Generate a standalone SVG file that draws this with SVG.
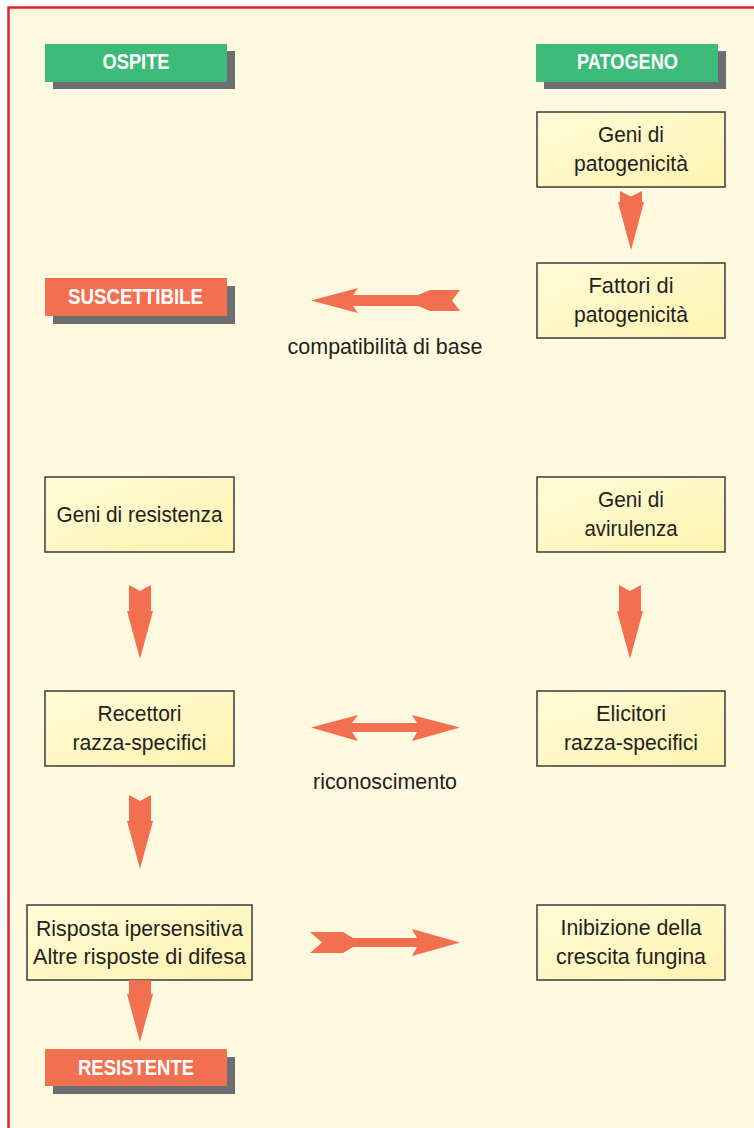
<svg xmlns="http://www.w3.org/2000/svg" width="754" height="1128" viewBox="0 0 754 1128">
<defs>
<linearGradient id="boxg" x1="0" y1="0" x2="1" y2="1">
<stop offset="0" stop-color="#FFFBD8"/>
<stop offset="1" stop-color="#FFF3B0"/>
</linearGradient>
<style>
.box{fill:url(#boxg);stroke:#3a3a3a;stroke-width:1.5}
.t{font-family:"Liberation Sans",Arial,sans-serif;font-size:22.5px;fill:#231F20;text-anchor:middle}
.lb{font-family:"Liberation Sans",Arial,sans-serif;font-size:22px;font-weight:bold;fill:#FFFFFF;text-anchor:middle}
.sh{fill:#6D6E71}
.gr{fill:#3DBB78}
.or{fill:#F26F50}
.arr{fill:#F26F50}
</style>
</defs>
<rect x="0" y="0" width="754" height="1128" fill="#FFFFFF"/>
<rect x="8" y="7" width="746" height="1121" fill="#FFFADF"/>
<path d="M8.5,1128 V7.5 H754" fill="none" stroke="#E8202A" stroke-width="2.5"/>

<g id="ospite">
<rect class="sh" x="53" y="51" width="182" height="38"/>
<rect class="gr" x="45" y="44" width="182" height="38"/>
<text class="lb" x="136" y="68.5" textLength="67" lengthAdjust="spacingAndGlyphs">OSPITE</text>
</g>
<g id="patogeno">
<rect class="sh" x="544" y="51" width="182" height="38"/>
<rect class="gr" x="536" y="44" width="182" height="38"/>
<text class="lb" x="627.5" y="68.5" textLength="101" lengthAdjust="spacingAndGlyphs">PATOGENO</text>
</g>
<g id="geni-patogenicita">
<rect class="box" x="537" y="112" width="188" height="75"/>
<text class="t" x="631" y="142" textLength="66" lengthAdjust="spacingAndGlyphs">Geni di</text>
<text class="t" x="631" y="170.5" textLength="114" lengthAdjust="spacingAndGlyphs">patogenicità</text>
</g>
<g id="fattori-patogenicita">
<rect class="box" x="537" y="263" width="188" height="75"/>
<text class="t" x="631" y="293" textLength="85" lengthAdjust="spacingAndGlyphs">Fattori di</text>
<text class="t" x="631" y="321.5" textLength="114" lengthAdjust="spacingAndGlyphs">patogenicità</text>
</g>
<g id="suscettibile">
<rect class="sh" x="53" y="286" width="182" height="38"/>
<rect class="or" x="45" y="278" width="182" height="38"/>
<text class="lb" x="135.5" y="303.5" textLength="135" lengthAdjust="spacingAndGlyphs">SUSCETTIBILE</text>
</g>
<g id="geni-resistenza">
<rect class="box" x="45" y="477" width="189" height="75"/>
<text class="t" x="139.5" y="522" textLength="166" lengthAdjust="spacingAndGlyphs">Geni di resistenza</text>
</g>
<g id="geni-avirulenza">
<rect class="box" x="537" y="477" width="188" height="75"/>
<text class="t" x="631" y="507" textLength="66" lengthAdjust="spacingAndGlyphs">Geni di</text>
<text class="t" x="631" y="535.5" textLength="93" lengthAdjust="spacingAndGlyphs">avirulenza</text>
</g>
<g id="recettori">
<rect class="box" x="45" y="691" width="189" height="75"/>
<text class="t" x="139.5" y="721" textLength="84" lengthAdjust="spacingAndGlyphs">Recettori</text>
<text class="t" x="139.5" y="749.5" textLength="134" lengthAdjust="spacingAndGlyphs">razza-specifici</text>
</g>
<g id="elicitori">
<rect class="box" x="537" y="691" width="188" height="75"/>
<text class="t" x="631" y="721" textLength="70" lengthAdjust="spacingAndGlyphs">Elicitori</text>
<text class="t" x="631" y="749.5" textLength="134" lengthAdjust="spacingAndGlyphs">razza-specifici</text>
</g>
<g id="risposta">
<rect class="box" x="27" y="905" width="225" height="75"/>
<text class="t" x="139.5" y="935.5" textLength="207" lengthAdjust="spacingAndGlyphs">Risposta ipersensitiva</text>
<text class="t" x="139.5" y="963.5" textLength="213" lengthAdjust="spacingAndGlyphs">Altre risposte di difesa</text>
</g>
<g id="inibizione">
<rect class="box" x="537" y="905" width="188" height="75"/>
<text class="t" x="631" y="935" textLength="141" lengthAdjust="spacingAndGlyphs">Inibizione della</text>
<text class="t" x="631" y="963.5" textLength="150" lengthAdjust="spacingAndGlyphs">crescita fungina</text>
</g>
<g id="resistente">
<rect class="sh" x="53" y="1057" width="182" height="37"/>
<rect class="or" x="45" y="1049" width="182" height="37"/>
<text class="lb" x="136" y="1074.5" textLength="116" lengthAdjust="spacingAndGlyphs">RESISTENTE</text>
</g>

<g id="connectors">
<path class="arr" transform="translate(631,191) scale(1,0.79)" d="M-11,0 L0,7 L11,0 L11,14 L13,14 L0,75 L-13,14 L-11,14 Z"/>
<path class="arr" transform="translate(140,585)" d="M-11,0 L0,6 L11,0 L11,26 L13,26 L0,74 L-13,26 L-11,26 Z"/>
<path class="arr" transform="translate(630,585)" d="M-11,0 L0,6 L11,0 L11,26 L13,26 L0,74 L-13,26 L-11,26 Z"/>
<path class="arr" transform="translate(140,795)" d="M-11,0 L0,6 L11,0 L11,26 L13,26 L0,74 L-13,26 L-11,26 Z"/>
<path class="arr" d="M129,980 L151,980 L151,994 L153,994 L140,1042 L127,994 L129,994 Z"/>
<path class="arr" d="M311,300.5 L358,288 L353,295 L418,295 L430,290 L460,290 L452,300.5 L460,311 L430,311 L418,306 L353,306 L358,313 Z"/>
<path class="arr" d="M311,727.5 L358,715 L352,723 L417,723 L412,715 L460,727.5 L412,741 L417,732 L352,732 L358,741 Z"/>
<path class="arr" d="M310,932 L343,932 L353,938 L417,938 L412,929 L460,942.5 L412,956 L417,947 L353,947 L343,953 L310,953 L322,942.5 Z"/>
<text class="t" x="385" y="353.5" textLength="195" lengthAdjust="spacingAndGlyphs">compatibilità di base</text>
<text class="t" x="385" y="788.5" textLength="144" lengthAdjust="spacingAndGlyphs">riconoscimento</text>
</g>
</svg>
